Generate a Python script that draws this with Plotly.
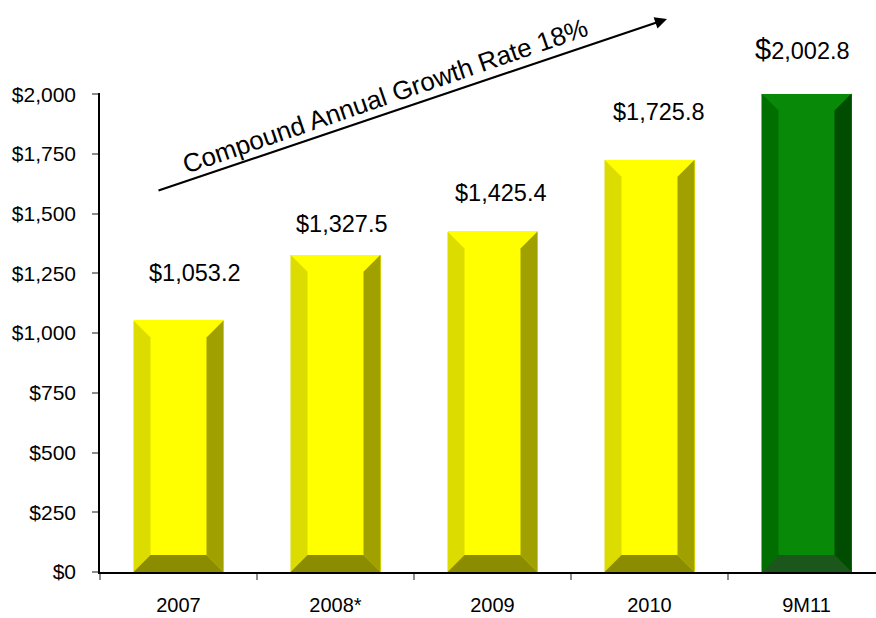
import plotly.graph_objects as go

# Revenue by period (US$ millions)
categories = ["2007", "2008*", "2009", "2010", "9M11"]
revenue = [1053.2, 1327.5, 1425.4, 1725.8, 2002.8]
y_tick_values = [0, 250, 500, 750, 1000, 1250, 1500, 1750, 2000]
y_tick_text = ["$0", "$250", "$500", "$750", "$1,000", "$1,250", "$1,500", "$1,750", "$2,000"]
cagr_text = "Compound Annual Growth Rate 18%"

# Face colours for each bar: front, left, right, bottom
yellow = ("#ffff00", "#dcdc00", "#a0a000", "#8c8c00")
green = ("#088a08", "#006f00", "#004c00", "#1b561b")
palettes = [yellow, yellow, yellow, yellow, green]

# Figure geometry
W, H = 876, 618
M_L, M_R, M_T, M_B = 100, 0, 93, 46
plot_w = W - M_L - M_R
plot_h = H - M_T - M_B
px_per_cat = 157.0
x_range = [-0.5, -0.5 + plot_w / px_per_cat]
y_range = [0, 2005]
px_per_unit = plot_h / (y_range[1] - y_range[0])

bar_w = 90 / px_per_cat
bev_x = 17 / px_per_cat
bev_y = 17 / px_per_unit

xs = list(range(len(categories)))

fig = go.Figure()

# Front faces of the bars
fig.add_trace(go.Bar(
    x=xs, y=revenue, width=bar_w,
    marker=dict(color=[p[0] for p in palettes], line=dict(width=0)),
    hoverinfo="skip", showlegend=False,
))

# Bevelled side faces
def face(px, py, color):
    fig.add_trace(go.Scatter(
        x=px + [px[0]], y=py + [py[0]], mode="lines", fill="toself",
        fillcolor=color, line=dict(width=0, color=color),
        hoverinfo="skip", showlegend=False,
    ))

for x, v, pal in zip(xs, revenue, palettes):
    l, r = x - bar_w / 2, x + bar_w / 2
    il, ir = l + bev_x, r - bev_x
    it, ib = v - bev_y, bev_y
    face([l, il, il, l], [v, it, ib, 0], pal[1])      # left
    face([r, ir, ir, r], [v, it, ib, 0], pal[2])      # right
    face([l, il, ir, r], [0, ib, ib, 0], pal[3])      # bottom

# Value labels above the bars
label_dx = [16, 6, 8, 9, -4]
label_dy = [47, 31, 38, 48, 45]
for i, (x, v) in enumerate(zip(xs, revenue)):
    txt = f"${v:,.1f}"
    if i == len(revenue) - 1:
        txt = "<span style='font-size:29px'>$</span>" + f"{v:,.1f}"
    fig.add_annotation(
        x=x, y=v, xref="x", yref="y", text=txt, showarrow=False,
        xanchor="center", yanchor="middle", xshift=label_dx[i], yshift=label_dy[i],
        font=dict(size=23.5, color="black"),
    )

# Growth arrow and its caption
def to_paper(px, py):
    return (px - M_L) / plot_w, (H - M_B - py) / plot_h

head_x, head_y = to_paper(667, 19)
fig.add_annotation(
    x=head_x, y=head_y, xref="paper", yref="paper", text="",
    showarrow=True, ax=157 - 667, ay=191 - 19, axref="pixel", ayref="pixel",
    arrowhead=2, arrowsize=1.1, arrowwidth=2.2, arrowcolor="black",
)
cx, cy = to_paper(385, 96)
fig.add_annotation(
    x=cx, y=cy, xref="paper", yref="paper", text=cagr_text, showarrow=False,
    textangle=-19, xanchor="center", yanchor="middle",
    font=dict(size=26, color="black"),
)

fig.update_layout(
    width=W, height=H,
    margin=dict(l=M_L, r=M_R, t=M_T, b=M_B, pad=0),
    paper_bgcolor="white", plot_bgcolor="white",
    font=dict(family="Arial, 'Liberation Sans', sans-serif", color="black"),
    bargap=0,
    xaxis=dict(
        range=x_range, tickmode="array", tickvals=xs, ticktext=categories,
        ticks="", showgrid=False, zeroline=False, automargin=False,
        showline=True, linecolor="black", linewidth=1.5,
        tickfont=dict(size=20, color="black"), ticklabelstandoff=14,
        minor=dict(tickmode="array", tickvals=[x - 0.5 for x in xs] + [xs[-1] + 0.5],
                   ticks="outside", ticklen=6, tickcolor="#8c8c8c", tickwidth=1.5,
                   showgrid=False),
    ),
    yaxis=dict(
        range=y_range, tickmode="array", tickvals=y_tick_values, ticktext=y_tick_text,
        ticks="outside", ticklen=6, tickcolor="#8c8c8c", tickwidth=1.5,
        showgrid=False, zeroline=False, automargin=False,
        showline=True, linecolor="black", linewidth=1.5,
        tickfont=dict(size=21, color="black"), ticklabelstandoff=12,
    ),
)

fig.write_html("out.html")
